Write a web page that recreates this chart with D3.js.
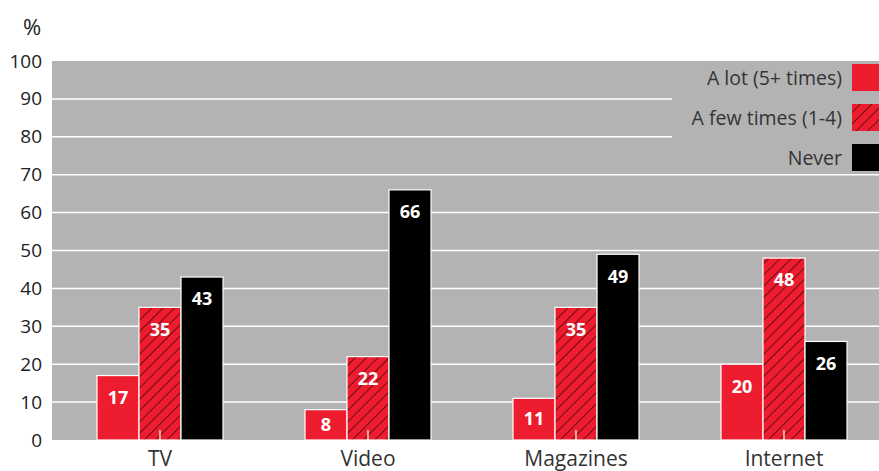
<!DOCTYPE html>
<html>
<head>
<meta charset="utf-8">
<script src="https://cdn.jsdelivr.net/npm/d3@7"></script>
<style>
  html, body { margin: 0; padding: 0; background: #fff; }
  svg { display: block; font-family: "Open Sans", "Noto Sans", sans-serif; }
</style>
</head>
<body>
<svg id="chart" width="879" height="471"></svg>
<script>
// Media categories and the share of respondents in each frequency group
const categories = ["TV", "Video", "Magazines", "Internet"];
const seriesNames = ["A lot (5+ times)", "A few times (1-4)", "Never"];
const aLot = [17, 8, 11, 20];
const aFewTimes = [35, 22, 35, 48];
const never = [43, 66, 49, 26];
const yTicks = [0, 10, 20, 30, 40, 50, 60, 70, 80, 90, 100];

const seriesValues = [aLot, aFewTimes, never];
const seriesKeys = ["lot", "few", "never"];

const svg = d3.select("#chart");
const plot = { left: 52, right: 879, top: 61, bottom: 440 };

const RED = "#ed1c2e";
const GREY = "#b3b3b3";
const FONT = "'Open Sans', 'Noto Sans', sans-serif";

// Diagonal hatch for the middle series
const defs = svg.append("defs");
const hatch = defs.append("pattern")
  .attr("id", "hatch")
  .attr("patternUnits", "userSpaceOnUse")
  .attr("width", 8).attr("height", 8)
  .attr("patternTransform", "rotate(45)");
hatch.append("rect").attr("width", 8).attr("height", 8).attr("fill", RED);
hatch.append("line")
  .attr("x1", 0).attr("y1", 0).attr("x2", 0).attr("y2", 8)
  .attr("stroke", "#000").attr("stroke-width", 1.1);

const fills = { lot: RED, few: "url(#hatch)", never: "#000" };

// Scales
const y = d3.scaleLinear().domain([0, 100]).range([plot.bottom, plot.top]);
const x0 = d3.scaleBand()
  .domain(categories)
  .range([56, 888])
  .paddingInner(0.394)
  .paddingOuter(0.197);
const x1 = d3.scaleBand()
  .domain(seriesKeys)
  .range([0, x0.bandwidth()]);

// Plot background
svg.append("rect")
  .attr("x", plot.left).attr("y", plot.top)
  .attr("width", plot.right - plot.left)
  .attr("height", plot.bottom - plot.top)
  .attr("fill", GREY);

// Horizontal gridlines
svg.append("g")
  .selectAll("line")
  .data(yTicks.filter(t => t > 0 && t < 100))
  .join("line")
  .attr("x1", plot.left).attr("x2", plot.right)
  .attr("y1", d => y(d)).attr("y2", d => y(d))
  .attr("stroke", "#fff").attr("stroke-width", 1.5);

// Y axis labels
const yAxis = d3.axisLeft(y).tickValues(yTicks).tickSize(0).tickPadding(10);
const gy = svg.append("g").attr("transform", `translate(${plot.left},0)`).call(yAxis);
gy.select(".domain").remove();
gy.selectAll("text")
  .attr("font-size", 19).attr("fill", "#222")
  .attr("font-family", FONT);

svg.append("text")
  .attr("x", 32).attr("y", 35)
  .attr("text-anchor", "middle")
  .attr("font-size", 22).attr("fill", "#222")
  .text("%");

// Bars
const rows = categories.map((c, i) => ({
  cat: c,
  vals: seriesKeys.map((k, j) => ({ key: k, value: seriesValues[j][i] }))
}));

const groups = svg.append("g")
  .selectAll("g")
  .data(rows)
  .join("g")
  .attr("transform", d => `translate(${x0(d.cat)},0)`);

groups.selectAll("rect")
  .data(d => d.vals)
  .join("rect")
  .attr("x", d => x1(d.key))
  .attr("y", d => y(d.value))
  .attr("width", x1.bandwidth())
  .attr("height", d => y(0) - y(d.value))
  .attr("fill", d => fills[d.key])
  .attr("stroke", "#fff")
  .attr("stroke-width", 1.2);

// Value labels inside the bars
groups.selectAll("text.val")
  .data(d => d.vals)
  .join("text")
  .attr("class", "val")
  .attr("x", d => x1(d.key) + x1.bandwidth() / 2)
  .attr("y", d => Math.min(y(d.value) + 22, (y(d.value) + y(0)) / 2))
  .attr("dy", "0.35em")
  .attr("text-anchor", "middle")
  .attr("font-size", 18).attr("font-weight", 700)
  .attr("fill", "#fff")
  .text(d => d.value);

// X axis: category labels and small centre ticks
const xAxis = d3.axisBottom(x0).tickSize(0).tickPadding(0);
const gx = svg.append("g").attr("transform", `translate(0,${plot.bottom})`).call(xAxis);
gx.select(".domain").remove();
gx.selectAll(".tick text")
  .attr("y", 26).attr("dy", null)
  .attr("font-size", 21).attr("fill", "#333")
  .attr("font-family", FONT);
gx.selectAll(".tick").append("line")
  .attr("y1", 0).attr("y2", -10)
  .attr("stroke", "#fff").attr("stroke-width", 1.2);

// Legend box
const legend = svg.append("g");
legend.append("rect")
  .attr("x", 672).attr("y", plot.top)
  .attr("width", plot.right - 672).attr("height", 112)
  .attr("fill", GREY);

const legendItems = legend.selectAll("g.item")
  .data(seriesNames.map((n, i) => ({ name: n, key: seriesKeys[i] })))
  .join("g")
  .attr("class", "item")
  .attr("transform", (d, i) => `translate(0,${64 + i * 40})`);

legendItems.append("rect")
  .attr("x", 852).attr("y", 0)
  .attr("width", 28).attr("height", 27)
  .attr("fill", d => fills[d.key]);

legendItems.append("text")
  .attr("x", 842).attr("y", 14)
  .attr("dy", "0.35em")
  .attr("text-anchor", "end")
  .attr("font-size", 19.5).attr("fill", "#333")
  .text(d => d.name);
</script>
</body>
</html>
